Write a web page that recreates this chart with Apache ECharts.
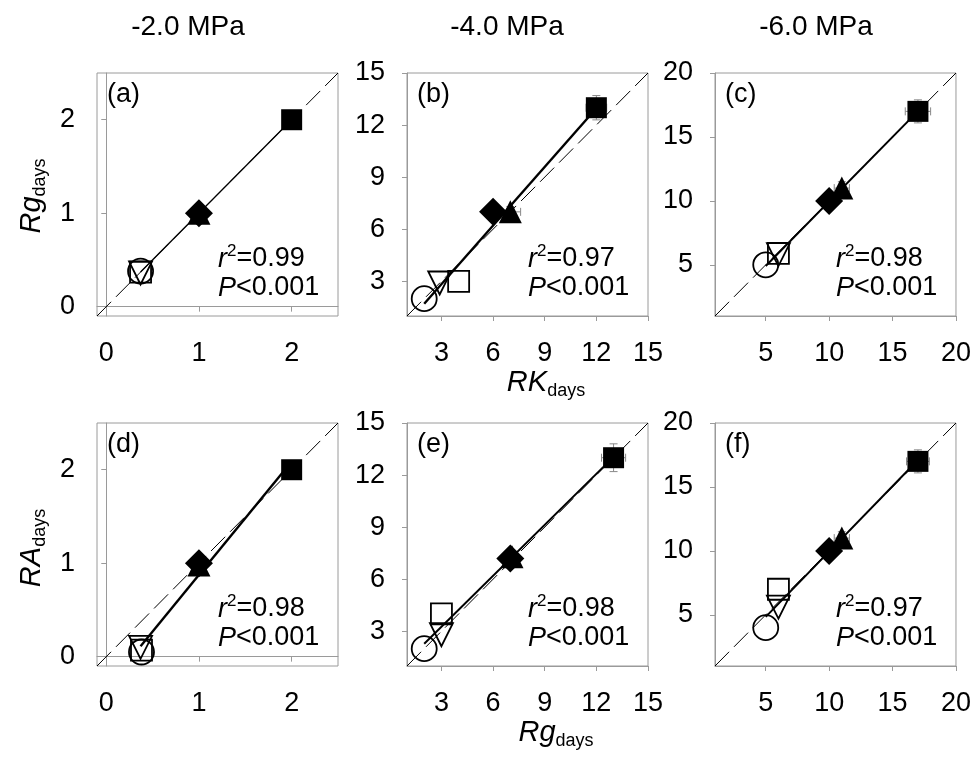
<!DOCTYPE html>
<html>
<head>
<meta charset="utf-8">
<script src="https://cdn.jsdelivr.net/npm/echarts@6/dist/echarts.min.js"></script>
<style>
html,body{margin:0;padding:0;background:#fff;}
#chart{width:974px;height:758px;}
</style>
</head>
<body>
<div id="chart"></div>
<script>
// ---- data (treatment order: open circle, open down-triangle, open square, filled diamond, filled triangle, filled square)
const columnTitles = ['-2.0 MPa', '-4.0 MPa', '-6.0 MPa'];
const panelLetters = ['(a)', '(b)', '(c)', '(d)', '(e)', '(f)'];
const r2Values = ['0.99', '0.97', '0.98', '0.98', '0.98', '0.97'];
const pValues = ['<0.001', '<0.001', '<0.001', '<0.001', '<0.001', '<0.001'];

const xA = [0.37, 0.37, 0.37, 1, 1, 2];
const yA = [0.38, 0.36, 0.37, 1, 1, 2];
const xB = [2, 2.9, 4, 6, 7, 12];
const yB = [2, 2.9, 3, 7, 7, 13];
const xC = [5, 6, 6, 10, 11, 17];
const yC = [5, 5.8, 5.9, 10, 11, 17];
const xD = [0.38, 0.37, 0.38, 1, 1, 2];
const yD = [0.05, 0.1, 0.07, 1, 0.98, 2];
const xE = [2, 3, 3, 7, 7.1, 13];
const yE = [2, 2.8, 4, 7.2, 7.3, 13];
const xF = [5, 6, 6, 10, 11, 17];
const yF = [4, 5.6, 7, 10, 11, 17];

// error bars (± values)
const xErrA = [0, 0, 0, 0, 0, 0];
const yErrA = [0, 0, 0, 0, 0, 0];
const xErrB = [0, 0, 0, 0, 0.6, 0.6];
const yErrB = [0, 0, 0, 0, 0.3, 0.7];
const xErrC = [0, 0, 0, 0, 0.6, 1.0];
const yErrC = [0, 0, 0, 0, 0.5, 0.9];
const xErrD = [0, 0, 0, 0, 0, 0];
const yErrD = [0, 0, 0, 0, 0, 0];
const xErrE = [0, 0, 0, 0, 0.3, 0.7];
const yErrE = [0, 0, 0, 0, 0.3, 0.8];
const xErrF = [0, 0, 0, 0, 0.6, 0.9];
const yErrF = [0, 0, 0, 0, 0.5, 0.9];

// axis ranges and tick labels
const axisMin = [-0.1, 1, 1];
const axisMax = [2.5, 15, 20];
const tickValues = [[0, 1, 2], [3, 6, 9, 12, 15], [5, 10, 15, 20]];

// ---- layout / style
const FONT = "'Liberation Sans', Arial, sans-serif";
const lefts = [97, 407, 715];
const tops = [73, 423];
const W = 241, H = 243;
const symbols = ['circle', 'triangle', 'rect', 'diamond', 'triangle', 'rect'];
const rotates = [0, 180, 0, 0, 0, 0];
const filled = [false, false, false, true, true, true];
const sizes = [25, 23, 21, 28, 23, 21];
const regWidths = [1.3, 2.4, 2, 2.4, 2, 2];

const xs = [xA, xB, xC, xD, xE, xF];
const ys = [yA, yB, yC, yD, yE, yF];
const xErrs = [xErrA, xErrB, xErrC, xErrD, xErrE, xErrF];
const yErrs = [yErrA, yErrB, yErrC, yErrD, yErrE, yErrF];

function fit(x, y) {
  const n = x.length;
  const mx = x.reduce((a, b) => a + b, 0) / n;
  const my = y.reduce((a, b) => a + b, 0) / n;
  let sxy = 0, sxx = 0;
  for (let i = 0; i < n; i++) { sxy += (x[i] - mx) * (y[i] - my); sxx += (x[i] - mx) ** 2; }
  const b = sxy / sxx;
  return { a: my - b * mx, b: b };
}

const grid = [], xAxis = [], yAxis = [], series = [], graphic = [];
for (let p = 0; p < 6; p++) {
  const col = p % 3, row = Math.floor(p / 3);
  grid.push({ left: lefts[col], top: tops[row], width: W, height: H, show: true, borderColor: '#9a9a9a', borderWidth: 1, containLabel: false });
  const common = {
    type: 'value', gridIndex: p, min: axisMin[col], max: axisMax[col],
    axisLine: { show: true, lineStyle: { color: '#9a9a9a', width: 1 } },
    axisTick: { show: true, inside: false, length: 5, customValues: tickValues[col], lineStyle: { color: '#9a9a9a' } },
    splitLine: { show: false },
  };
  xAxis.push(Object.assign({}, common, {
    axisLabel: { customValues: tickValues[col], fontSize: 27, color: '#000', fontFamily: FONT, margin: 24 }
  }));
  yAxis.push(Object.assign({}, common, {
    axisLabel: { customValues: tickValues[col], fontSize: 27, color: '#000', fontFamily: FONT, margin: 22 }
  }));

  // 1:1 dashed line
  series.push({
    type: 'line', xAxisIndex: p, yAxisIndex: p, symbol: 'none', silent: true,
    data: [[axisMin[col], axisMin[col]], [axisMax[col], axisMax[col]]],
    lineStyle: { color: '#000', width: 1, type: [20, 7] }, z: 1
  });
  // regression line
  const f = fit(xs[p], ys[p]);
  const x0 = Math.min(...xs[p]), x1 = Math.max(...xs[p]);
  series.push({
    type: 'line', xAxisIndex: p, yAxisIndex: p, symbol: 'none', silent: true,
    data: [[x0, f.a + f.b * x0], [x1, f.a + f.b * x1]],
    lineStyle: { color: '#000', width: regWidths[p] }, z: 2
  });
  // error bars
  series.push({
    type: 'custom', xAxisIndex: p, yAxisIndex: p, silent: true, z: 3,
    data: xs[p].map((v, i) => [v, ys[p][i], xErrs[p][i], yErrs[p][i]]),
    renderItem: function (params, api) {
      const x = api.value(0), y = api.value(1), ex = api.value(2), ey = api.value(3);
      const children = [];
      const st = { stroke: '#888', lineWidth: 1 };
      if (ex > 0) {
        const l = api.coord([x - ex, y]), r = api.coord([x + ex, y]);
        children.push({ type: 'line', shape: { x1: l[0], y1: l[1], x2: r[0], y2: r[1] }, style: st });
        children.push({ type: 'line', shape: { x1: l[0], y1: l[1] - 4, x2: l[0], y2: l[1] + 4 }, style: st });
        children.push({ type: 'line', shape: { x1: r[0], y1: r[1] - 4, x2: r[0], y2: r[1] + 4 }, style: st });
      }
      if (ey > 0) {
        const b = api.coord([x, y - ey]), t = api.coord([x, y + ey]);
        children.push({ type: 'line', shape: { x1: b[0], y1: b[1], x2: t[0], y2: t[1] }, style: st });
        children.push({ type: 'line', shape: { x1: b[0] - 4, y1: b[1], x2: b[0] + 4, y2: b[1] }, style: st });
        children.push({ type: 'line', shape: { x1: t[0] - 4, y1: t[1], x2: t[0] + 4, y2: t[1] }, style: st });
      }
      return { type: 'group', children: children };
    }
  });
  // markers
  for (let t = 0; t < 6; t++) {
    series.push({
      type: 'scatter', xAxisIndex: p, yAxisIndex: p, silent: true,
      symbol: symbols[t], symbolRotate: rotates[t], symbolSize: sizes[t],
      data: [[xs[p][t], ys[p][t]]],
      itemStyle: filled[t]
        ? { color: '#000', borderColor: '#000', borderWidth: 0, opacity: 1 }
        : { color: 'rgba(255,255,255,0)', borderColor: '#000', borderWidth: 1.8, opacity: 1 },
      z: 4 + t
    });
  }

  // panel texts
  const gl = lefts[col], gt = tops[row];
  graphic.push({ type: 'text', x: gl + 10, y: gt + 22, style: { text: panelLetters[p], font: '27px ' + FONT, fill: '#000', align: 'left', verticalAlign: 'middle' } });
  graphic.push({ type: 'text', x: gl + 121, y: gt + 186, style: {
    text: '{i|r}{sup|2}{n|=' + r2Values[p] + '}', align: 'left', verticalAlign: 'middle', fill: '#000',
    rich: {
      i: { fontFamily: FONT, fontSize: 27, fontStyle: 'italic', lineHeight: 32, fill: '#000' },
      sup: { fontFamily: FONT, fontSize: 17, lineHeight: 18, verticalAlign: 'top', fill: '#000' },
      n: { fontFamily: FONT, fontSize: 27, lineHeight: 32, fill: '#000' }
    } } });
  graphic.push({ type: 'text', x: gl + 121, y: gt + 215, style: {
    text: '{i|P}{n|' + pValues[p] + '}', align: 'left', verticalAlign: 'middle', fill: '#000',
    rich: {
      i: { fontFamily: FONT, fontSize: 27, fontStyle: 'italic', lineHeight: 32, fill: '#000' },
      n: { fontFamily: FONT, fontSize: 27, lineHeight: 32, fill: '#000' }
    } } });
}

// column titles
const titleX = [188, 507, 816];
for (let c = 0; c < 3; c++) {
  graphic.push({ type: 'text', x: titleX[c], y: 27, style: { text: columnTitles[c], font: '28px ' + FONT, fill: '#000', align: 'center', verticalAlign: 'middle' } });
}
// axis names
const nameRich = {
  i: { fontFamily: FONT, fontSize: 29, fontStyle: 'italic', lineHeight: 34, fill: '#000' },
  s: { fontFamily: FONT, fontSize: 18, lineHeight: 20, verticalAlign: 'bottom', fill: '#000' }
};
graphic.push({ type: 'text', x: 32, y: 196, rotation: Math.PI / 2, style: { text: '{i|Rg}{s|days}', align: 'center', verticalAlign: 'middle', rich: nameRich } });
graphic.push({ type: 'text', x: 32, y: 548, rotation: Math.PI / 2, style: { text: '{i|RA}{s|days}', align: 'center', verticalAlign: 'middle', rich: nameRich } });
graphic.push({ type: 'text', x: 546, y: 383, style: { text: '{i|RK}{s|days}', align: 'center', verticalAlign: 'middle', rich: nameRich } });
graphic.push({ type: 'text', x: 556, y: 733, style: { text: '{i|Rg}{s|days}', align: 'center', verticalAlign: 'middle', rich: nameRich } });

const chart = echarts.init(document.getElementById('chart'), null, { renderer: 'canvas' });
chart.setOption({
  animation: false,
  backgroundColor: '#fff',
  grid: grid, xAxis: xAxis, yAxis: yAxis, series: series, graphic: graphic
});
</script>
</body>
</html>
